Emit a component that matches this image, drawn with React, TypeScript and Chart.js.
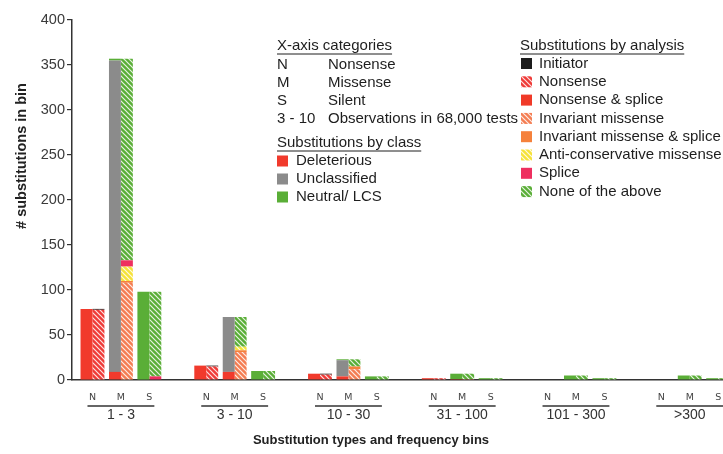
import React, { useEffect, useRef } from 'react';
import { Chart, registerables } from 'chart.js';

Chart.register(...registerables);

// ---------- data ----------
const binLabels = ['1 - 3', '3 - 10', '10 - 30', '31 - 100', '101 - 300', '>300'];
const typeLabels = ['N', 'M', 'S'];

// values per bin in order N, M, S (6 bins x 3 types)
const deleterious = [79, 9, 0, 16, 9, 0, 7, 4, 0, 2, 1, 0, 0, 0, 0, 0, 0, 0];
const unclassified = [0, 346, 0, 0, 61, 0, 0, 18, 0, 0, 0, 0, 0, 0, 0, 0, 0, 0];
const neutralLCS = [0, 2, 98, 0, 0, 10, 0, 1, 4, 0, 6, 2, 0, 5, 2, 0, 5, 2];

const initiator = [1, 0, 0, 1, 0, 0, 1, 0, 0, 0, 0, 0, 0, 0, 0, 0, 0, 0];
const nonsense = [78, 0, 0, 15, 0, 0, 6, 0, 0, 2, 0, 0, 0, 0, 0, 0, 0, 0];
const nonsenseSplice = [0, 0, 0, 0, 0, 0, 0, 0, 0, 0, 0, 0, 0, 0, 0, 0, 0, 0];
const invariantMissense = [0, 108, 0, 0, 31, 0, 0, 12, 0, 0, 1, 0, 0, 0, 0, 0, 0, 0];
const invariantMissenseSplice = [0, 2, 0, 0, 2, 0, 0, 3, 0, 0, 0, 0, 0, 0, 0, 0, 0, 0];
const antiConservative = [0, 16, 0, 0, 4, 0, 0, 0, 0, 0, 0, 0, 0, 0, 0, 0, 0, 0];
const splice = [0, 7, 4, 0, 0, 0, 0, 0, 0, 0, 0, 0, 0, 0, 0, 0, 0, 0];
const noneOfAbove = [0, 224, 94, 0, 33, 10, 0, 8, 4, 0, 6, 2, 0, 5, 2, 0, 5, 2];

const yTicks = [0, 50, 100, 150, 200, 250, 300, 350, 400];

const categoryKeys = ['N', 'M', 'S', '3 - 10'];
const categoryNames = ['Nonsense', 'Missense', 'Silent', 'Observations in 68,000 tests'];
const classLegend = ['Deleterious', 'Unclassified', 'Neutral/ LCS'];
const analysisLegend = [
  'Initiator',
  'Nonsense',
  'Nonsense & splice',
  'Invariant missense',
  'Invariant missense & splice',
  'Anti-conservative missense',
  'Splice',
  'None of the above',
];

// ---------- helpers ----------
const FONT = '"Liberation Sans", Arial, Helvetica, sans-serif';
const SLOTS_PER_BIN = 4;
const positions = binLabels.flatMap((_, b) => typeLabels.map((_, t) => b * SLOTS_PER_BIN + t));
const toPoints = (vals: number[]) => vals.map((v, i) => ({ x: positions[i], y: v }));

function makeHatch(ctx: CanvasRenderingContext2D, color: string) {
  const s = 5;
  const c = document.createElement('canvas');
  c.width = s;
  c.height = s;
  const g = c.getContext('2d')!;
  g.fillStyle = color;
  g.fillRect(0, 0, s, s);
  g.strokeStyle = 'rgba(255,255,255,0.85)';
  g.lineWidth = 1.2;
  g.beginPath();
  g.moveTo(-1, -1);
  g.lineTo(s + 1, s + 1);
  g.moveTo(-1, s - 1);
  g.lineTo(1, s + 1);
  g.moveTo(s - 1, -1);
  g.lineTo(s + 1, 1);
  g.stroke();
  return ctx.createPattern(c, 'repeat')!;
}

const annotations = {
  id: 'annotations',
  afterDraw(chart: any) {
    const { ctx, scales, chartArea } = chart;
    const xs = scales.x;
    ctx.save();

    // bin underlines + labels
    ctx.strokeStyle = '#333';
    ctx.lineWidth = 1.3;
    ctx.fillStyle = '#333';
    ctx.font = `14px ${FONT}`;
    ctx.textAlign = 'center';
    ctx.textBaseline = 'middle';
    binLabels.forEach((label, b) => {
      const x0 = xs.getPixelForValue(b * SLOTS_PER_BIN);
      const x1 = xs.getPixelForValue(b * SLOTS_PER_BIN + 2);
      const ly = chartArea.bottom + 26;
      ctx.beginPath();
      ctx.moveTo(x0 - 5, ly);
      ctx.lineTo(x1 + 5, ly);
      ctx.stroke();
      ctx.fillText(label, (x0 + x1) / 2, chartArea.bottom + 35);
    });

    // axis titles
    ctx.fillStyle = '#222';
    ctx.font = `bold 13px ${FONT}`;
    ctx.fillText('Substitution types and frequency bins', 371, 440);
    ctx.save();
    ctx.translate(22, 156);
    ctx.rotate(-Math.PI / 2);
    ctx.font = `bold 14.5px ${FONT}`;
    ctx.fillText('# substitutions in bin', 0, 0);
    ctx.restore();

    // legends
    ctx.textAlign = 'left';
    ctx.font = `15px ${FONT}`;
    ctx.fillStyle = '#1e1e1e';
    const header = (text: string, x: number, y: number) => {
      ctx.fillStyle = '#1e1e1e';
      ctx.fillText(text, x, y);
      const w = ctx.measureText(text).width;
      ctx.strokeStyle = '#1e1e1e';
      ctx.lineWidth = 1;
      ctx.beginPath();
      ctx.moveTo(x, y + 8);
      ctx.lineTo(x + w, y + 8);
      ctx.stroke();
    };

    header('X-axis categories', 277, 46);
    categoryKeys.forEach((k, i) => {
      const y = 65 + i * 17.8;
      ctx.fillText(k, 277, y);
      ctx.fillText(categoryNames[i], 328, y);
    });

    const ds = chart.data.datasets;
    const findBg = (label: string) => ds.find((d: any) => d.label === label)?.backgroundColor;

    header('Substitutions by class', 277, 143);
    classLegend.forEach((label, i) => {
      const y = 161 + i * 18;
      ctx.fillStyle = findBg(label);
      ctx.fillRect(277, y - 5.5, 11, 11);
      ctx.fillStyle = '#1e1e1e';
      ctx.fillText(label, 296, y);
    });

    header('Substitutions by analysis', 520, 46);
    analysisLegend.forEach((label, i) => {
      const y = 63.5 + i * 18.3;
      ctx.fillStyle = findBg(label);
      ctx.fillRect(521, y - 5.5, 11, 11);
      ctx.fillStyle = '#1e1e1e';
      ctx.fillText(label, 539, y);
    });

    ctx.restore();
  },
};

export default function App() {
  const ref = useRef<HTMLCanvasElement>(null);

  useEffect(() => {
    document.body.style.margin = '0';
    document.body.style.overflow = 'hidden';
    const canvas = ref.current!;
    const ctx = canvas.getContext('2d')!;

    const RED = '#f13a2c';
    const GRAY = '#8b8b8b';
    const GREEN = '#5aae37';

    const datasets: any[] = [
      { label: 'Deleterious', data: toPoints(deleterious), backgroundColor: RED, stack: 'class' },
      { label: 'Unclassified', data: toPoints(unclassified), backgroundColor: GRAY, stack: 'class' },
      { label: 'Neutral/ LCS', data: toPoints(neutralLCS), backgroundColor: GREEN, stack: 'class' },
      { label: 'Nonsense', data: toPoints(nonsense), backgroundColor: makeHatch(ctx, '#ef3b38'), stack: 'analysis' },
      { label: 'Nonsense & splice', data: toPoints(nonsenseSplice), backgroundColor: '#f03a28', stack: 'analysis' },
      { label: 'Invariant missense', data: toPoints(invariantMissense), backgroundColor: makeHatch(ctx, '#f47d52'), stack: 'analysis' },
      { label: 'Invariant missense & splice', data: toPoints(invariantMissenseSplice), backgroundColor: '#f5813c', stack: 'analysis' },
      { label: 'Anti-conservative missense', data: toPoints(antiConservative), backgroundColor: makeHatch(ctx, '#f6e23a'), stack: 'analysis' },
      { label: 'Splice', data: toPoints(splice), backgroundColor: '#ee2f5f', stack: 'analysis' },
      { label: 'None of the above', data: toPoints(noneOfAbove), backgroundColor: makeHatch(ctx, GREEN), stack: 'analysis' },
      { label: 'Initiator', data: toPoints(initiator), backgroundColor: '#1c1c1c', stack: 'analysis' },
    ];

    const chart = new Chart(canvas, {
      type: 'bar',
      data: { datasets },
      options: {
        animation: false,
        responsive: false,
        devicePixelRatio: 1,
        layout: { padding: { top: 20, left: 0, right: 0, bottom: 0 } },
        datasets: { bar: { categoryPercentage: 0.84, barPercentage: 1, borderWidth: 0 } } as any,
        plugins: { legend: { display: false }, tooltip: { enabled: false } },
        scales: {
          x: {
            type: 'linear',
            offset: false,
            min: -0.72,
            max: 22.17,
            grid: { display: false, drawTicks: false },
            border: { display: true, color: '#333', width: 1.5 },
            afterBuildTicks: (scale: any) => {
              scale.ticks = positions.map((v) => ({ value: v }));
            },
            afterFit: (scale: any) => {
              scale.height = 74;
              scale.paddingLeft = 0;
              scale.paddingRight = 0;
            },
            ticks: {
              autoSkip: false,
              maxRotation: 0,
              padding: 12,
              color: '#444',
              font: { family: '"DejaVu Sans", Verdana, sans-serif', size: 9.5 },
              callback: (value: any) => typeLabels[Number(value) % SLOTS_PER_BIN] ?? '',
            },
          },
          y: {
            stacked: true,
            min: 0,
            max: 400,
            grid: { display: true, drawOnChartArea: false, drawTicks: true, tickLength: 5, color: '#333', lineWidth: 1.2 },
            border: { display: true, color: '#333', width: 1.5 },
            afterBuildTicks: (scale: any) => {
              scale.ticks = yTicks.map((v) => ({ value: v }));
            },
            afterFit: (scale: any) => {
              scale.width = 72;
              scale.paddingTop = 0;
              scale.paddingBottom = 0;
            },
            ticks: {
              padding: 2,
              color: '#3a3a3a',
              font: { family: FONT, size: 14.5 },
            },
          },
        },
      },
      plugins: [annotations],
    });

    return () => chart.destroy();
  }, []);

  return (
    <div style={{ width: 723, height: 454 }}>
      <canvas ref={ref} width={723} height={454} style={{ display: 'block' }} />
    </div>
  );
}
